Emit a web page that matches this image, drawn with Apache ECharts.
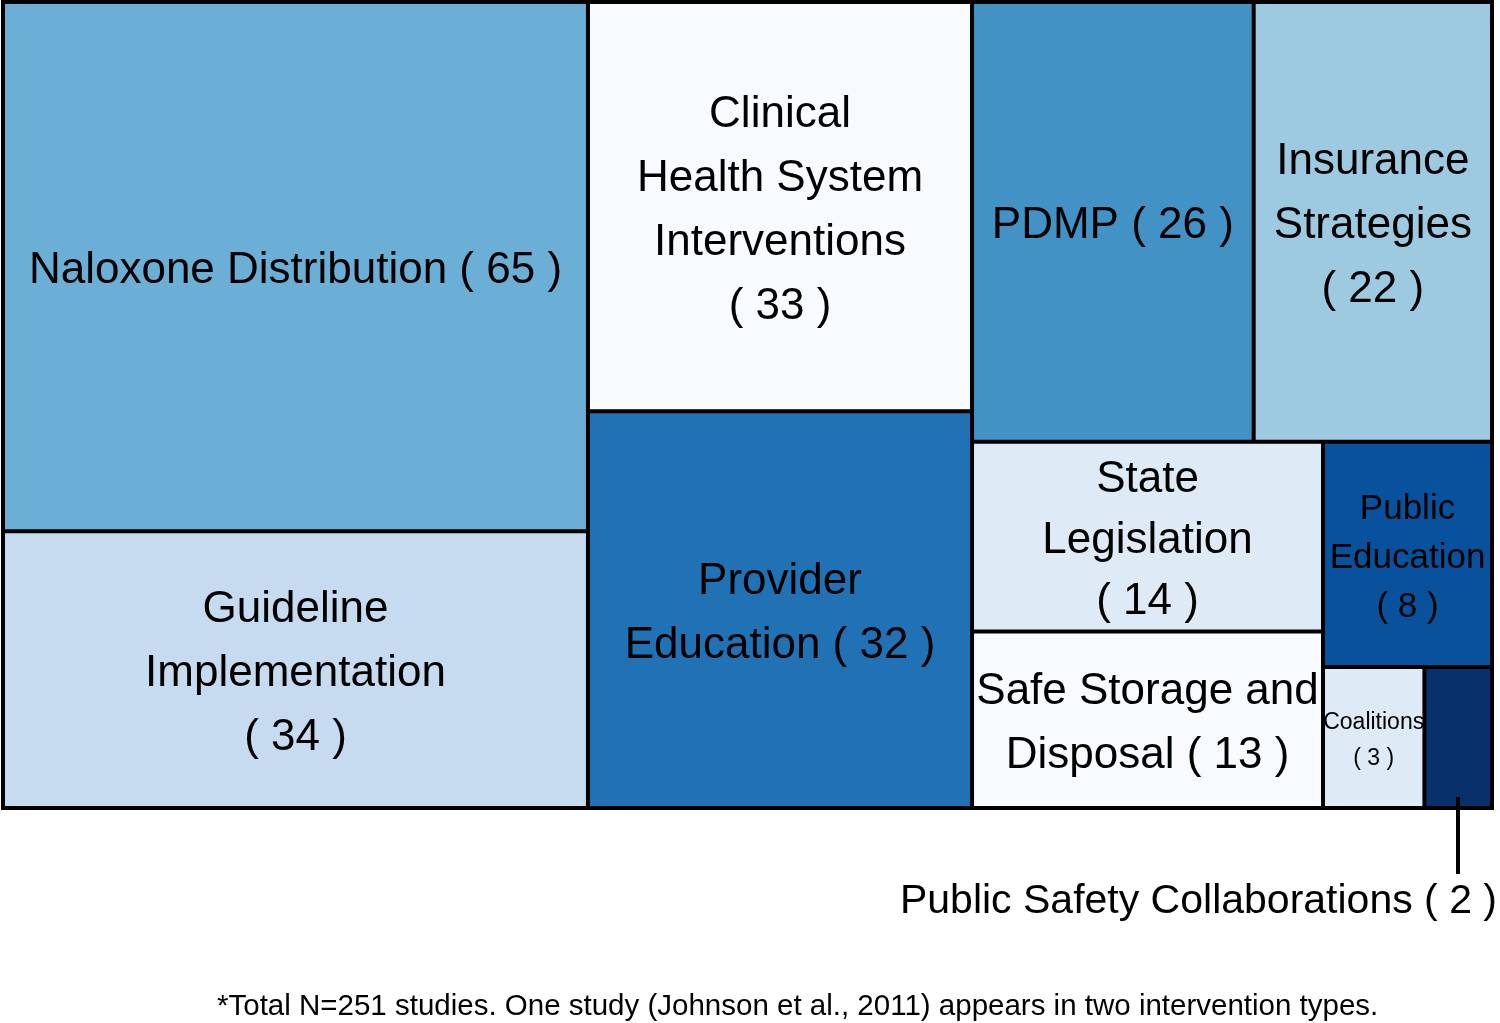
<!DOCTYPE html>
<html>
<head>
<meta charset="utf-8">
<script src="https://cdn.jsdelivr.net/npm/echarts@6/dist/echarts.min.js"></script>
<style>
html, body { margin: 0; padding: 0; background: #ffffff; }
#chart { width: 1500px; height: 1023px; }
</style>
</head>
<body>
<div id="chart"></div>
<script>
// ---- data ----
const categories = [
  'Naloxone Distribution', 'Guideline Implementation', 'Clinical Health System Interventions',
  'Provider Education', 'PDMP', 'Insurance Strategies', 'State Legislation',
  'Safe Storage and Disposal', 'Public Education', 'Coalitions', 'Public Safety Collaborations'
];
const studyCounts = [65, 34, 33, 32, 26, 22, 14, 13, 8, 3, 2];
// label text with line breaks; '#' is replaced by the count
const labelTemplates = [
  'Naloxone Distribution ( # )',
  'Guideline\nImplementation\n( # )',
  'Clinical\nHealth System\nInterventions\n( # )',
  'Provider\nEducation ( # )',
  'PDMP ( # )',
  'Insurance\nStrategies\n( # )',
  'State\nLegislation\n( # )',
  'Safe Storage and\nDisposal ( # )',
  'Public\nEducation\n( # )',
  'Coalitions\n( # )',
  'Public Safety Collaborations ( # )'
];
const footnote = '*Total N=251 studies. One study (Johnson et al., 2011) appears in two intervention types.';

// ---- styles ----
const cellColors = ['#6baed6', '#c6dbef', '#f7fbff', '#2171b5', '#4292c6', '#9ecae1',
                    '#deebf7', '#f7fbff', '#08519c', '#deebf7', '#08306b'];
const FONT = 'Liberation Sans';
const labelStyleOverrides = {
  'State Legislation': { lineHeight: 61 },
  'Public Education': { fontSize: 35, lineHeight: 49 },
  'Coalitions': { fontSize: 23, lineHeight: 36, offset: [0, 3] }
};

const data = categories.map(function (name, i) {
  const text = labelTemplates[i].replace('#', studyCounts[i]);
  const item = {
    name: name,
    value: studyCounts[i],
    itemStyle: { color: cellColors[i] },
    label: Object.assign({ formatter: function () { return text; } }, labelStyleOverrides[name] || {})
  };
  if (name === 'Public Safety Collaborations') {
    item.label = {
      position: 'bottom',
      distance: -9,
      offset: [7, 0],
      formatter: function () { return '{bar|}{sp|}\n{txt|' + text + '}'; },
      rich: {
        bar: { width: 4, height: 77, lineHeight: 77, backgroundColor: '#000', align: 'right' },
        sp: { width: 37, height: 77, lineHeight: 77, align: 'right' },
        txt: { fontSize: 41, lineHeight: 56, fontFamily: FONT, color: '#000', align: 'right' }
      }
    };
  }
  return item;
});

const chart = echarts.init(document.getElementById('chart'), null, { renderer: 'canvas' });
chart.setOption({
  animation: false,
  backgroundColor: '#ffffff',
  title: {
    text: footnote,
    left: 217,
    top: 992,
    padding: 0,
    textStyle: { fontFamily: FONT, fontSize: 29.5, fontWeight: 'normal', color: '#000' }
  },
  series: [{
    type: 'treemap',
    left: 1,
    top: 0,
    width: 1493,
    height: 810,
    squareRatio: 1.2,
    sort: 'desc',
    roam: false,
    nodeClick: false,
    breadcrumb: { show: false },
    emphasis: { disabled: true },
    upperLabel: { show: false },
    label: {
      show: true,
      position: 'inside',
      offset: [0, 4],
      color: '#000',
      fontFamily: FONT,
      fontSize: 44,
      lineHeight: 64,
      padding: 0,
      overflow: 'none'
    },
    itemStyle: { borderColor: '#000', borderWidth: 2, gapWidth: 0 },
    levels: [
      { itemStyle: { borderColor: '#000', borderWidth: 2, gapWidth: 0 } },
      { itemStyle: { borderColor: '#000', borderWidth: 2, gapWidth: 0 } }
    ],
    data: data
  }]
});
</script>
</body>
</html>
